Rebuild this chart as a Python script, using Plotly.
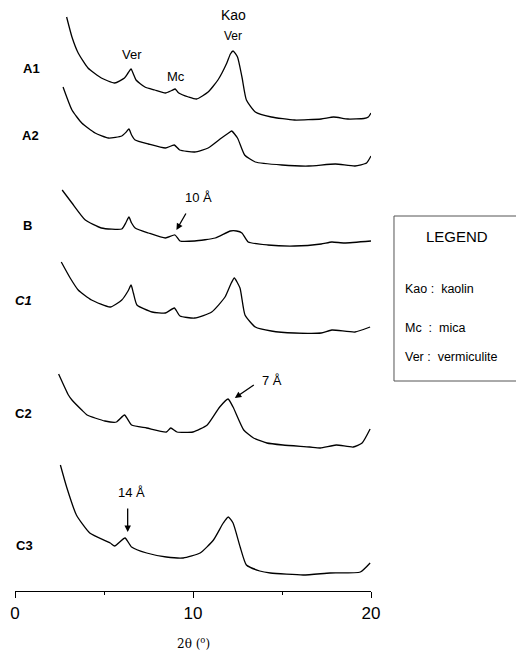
import plotly.graph_objects as go

# ---- data (2θ in degrees, intensity in arbitrary units above each trace baseline) ----
samples = ["A1", "A2", "B", "C1", "C2", "C3"]
sample_labels = ["<b>A1</b>", "<b>A2</b>", "<b>B</b>", "<b><i>C1</i></b>", "<b>C2</b>", "<b>C3</b>"]
offsets = [471, 425, 345, 258, 143, 16]

a1_x = [2.9, 3.2, 3.55, 4.1, 4.85, 5.6, 6.15, 6.35, 6.52, 6.65, 6.8, 7.3, 7.85, 8.45, 8.8, 9.0, 9.2,
        9.75, 10.2, 10.85, 11.4, 11.9, 12.1, 12.25, 12.5, 12.75, 13.0, 13.5, 14.4, 15.7, 17.2, 17.9,
        18.7, 19.6, 19.85, 20.0]
a1_y = [103, 83, 67, 52, 42, 37, 42, 47, 51, 46, 40, 33, 30, 27, 29.5, 31, 27,
        23, 21, 28, 40, 57, 66, 69, 63, 43, 20, 8, 3, 0, 1, 3,
        1, 1.5, 3, 7]

a2_x = [2.7, 3.2, 3.75, 4.5, 5.25, 6.0, 6.25, 6.4, 6.55, 6.75, 7.5, 8.45, 8.95, 9.25, 10.1, 10.85,
        11.6, 12.0, 12.17, 12.5, 12.9, 13.5, 15.0, 16.5, 18.0, 19.1, 19.75, 20.0]
a2_y = [79, 56, 43, 33, 28, 30, 34, 37, 31, 26, 22, 18, 21, 16, 14, 18,
        28, 33, 35, 28, 11, 4, 1, 0, 2, 0, 3, 10]

b_x = [2.65, 3.2, 3.95, 4.85, 6.0, 6.25, 6.4, 6.55, 6.75, 7.5, 8.45, 8.99, 9.27, 10.1, 11.25,
       12.1, 12.45, 12.75, 13.1, 14.2, 15.7, 17.2, 17.8, 18.5, 20.0]
b_y = [56, 43, 26, 18, 17, 24, 29, 23, 18, 13, 8, 11, 5, 5, 8,
       15, 15, 13, 4, 1, 0, 2, 4, 3, 5]

c1_x = [2.6, 3.1, 3.55, 4.3, 5.35, 6.0, 6.35, 6.52, 6.65, 6.85, 7.7, 8.45, 8.95, 9.27, 10.1, 11.05,
        11.8, 12.15, 12.32, 12.64, 12.92, 13.5, 14.4, 15.7, 17.2, 17.8, 19.1, 19.95]
c1_y = [71, 55, 43, 33, 26, 33, 42, 48, 40, 28, 21, 20, 25, 17, 15, 21,
        36, 50, 55, 45, 18, 6, 2, 0, 0, 3, 1, 6]

c2_x = [2.45, 3.0, 3.2, 3.75, 4.05, 5.05, 5.7, 6.15, 6.55, 7.4, 8.5, 8.75, 9.1, 10.0, 10.8, 11.5,
        11.97, 12.25, 12.85, 13.4, 14.15, 15.05, 16.55, 17.15, 18.05, 19.0, 19.5, 19.95]
c2_y = [74, 53, 48, 38, 33, 27, 26, 33, 23, 20, 16, 20, 16, 16, 23, 41,
        49, 41, 18, 10, 5, 3, 1, 0, 3, 1, 5, 19]

c3_x = [2.55, 2.9, 3.45, 4.2, 5.35, 5.6, 6.18, 6.55, 7.4, 8.5, 9.45, 10.4, 11.15, 11.7, 11.98,
        12.25, 12.65, 13.0, 13.75, 14.35, 16.2, 17.7, 19.4, 19.95]
c3_y = [110, 88, 60, 42, 32, 29, 37, 28, 22, 18, 17, 22, 35, 52, 58,
        52, 28, 10, 4, 2, 0, 2, 3, 12]

series_x = [a1_x, a2_x, b_x, c1_x, c2_x, c3_x]
series_y = [a1_y, a2_y, b_y, c1_y, c2_y, c3_y]

x_range = [0, 20]

legend_title = "LEGEND"
legend_items = ["Kao :\u00a0 kaolin", "Mc\u00a0 :\u00a0 mica", "Ver :\u00a0 vermiculite"]

FONT = "Liberation Sans, Arial, sans-serif"
TOPV = 583.0  # top of the (hidden) vertical scale

fig = go.Figure()
for name, xs, ys, off in zip(samples, series_x, series_y, offsets):
    fig.add_trace(go.Scatter(
        x=xs, y=[v + off for v in ys], mode="lines", name=name,
        line=dict(color="black", width=1.3, shape="spline", smoothing=0.5),
        showlegend=False, hoverinfo="skip"))

ann = []
# sample labels, placed relative to each trace's baseline level
label_x = [0.9, 0.85, 0.7, 0.5, 0.5, 0.55]
label_dy = [52, 31, 21, 33, 35, 30]
for lab, lx, off, dy in zip(sample_labels, label_x, offsets, label_dy):
    ann.append(dict(x=lx, y=off + dy, text=lab, showarrow=False, xanchor="center", yanchor="middle",
                    font=dict(size=13, family=FONT, color="black")))

# peak labels
pk = dict(showarrow=False, xanchor="center", yanchor="middle")
ann += [
    dict(x=12.25, y=576, text="Kao", font=dict(size=14, family=FONT, color="black"), **pk),
    dict(x=12.22, y=555, text="Ver", font=dict(size=12, family=FONT, color="black"), **pk),
    dict(x=6.55, y=537, text="Ver", font=dict(size=13, family=FONT, color="black"), **pk),
    dict(x=9.05, y=515, text="Mc", font=dict(size=13, family=FONT, color="black"), **pk),
    dict(x=10.3, y=394, text="10 Å", font=dict(size=13, family=FONT, color="black"), **pk),
    dict(x=14.45, y=211, text="7 Å", font=dict(size=13, family=FONT, color="black"), **pk),
    dict(x=6.55, y=99, text="14 Å", font=dict(size=13, family=FONT, color="black"), **pk),
]
# arrows (head at x,y ; tail at ax,ay)
arrow_common = dict(text="", showarrow=True, arrowhead=2, arrowsize=1, arrowwidth=1.3,
                    arrowcolor="black", axref="x", ayref="y")
ann += [
    dict(x=9.07, y=361, ax=9.65, ay=379, **arrow_common),
    dict(x=12.35, y=193, ax=13.5, ay=207, **arrow_common),
    dict(x=6.33, y=59, ax=6.33, ay=84, **arrow_common),
]
# axis title
ann.append(dict(xref="x", yref="paper", x=10, y=-52 / TOPV, text="2θ (<sup>o</sup>)", showarrow=False,
                xanchor="center", yanchor="middle",
                font=dict(size=12, family="DejaVu Serif, serif", color="black")))

# legend box contents (paper coords)
ann.append(dict(xref="paper", yref="paper", x=1.2416, y=354 / TOPV, text=legend_title, showarrow=False,
                xanchor="center", yanchor="middle", font=dict(size=15, family=FONT, color="black")))
for item, yy in zip(legend_items, [302, 263, 234]):
    ann.append(dict(xref="paper", yref="paper", x=1.0899, y=yy / TOPV, xanchor="left", yanchor="middle",
                    text=item, showarrow=False, font=dict(size=12.5, family=FONT, color="black")))

fig.update_layout(
    width=516, height=648,
    margin=dict(l=7, r=153, t=0, b=65),
    plot_bgcolor="white", paper_bgcolor="white",
    annotations=ann,
    shapes=[dict(type="rect", xref="paper", yref="paper", x0=1.0646, x1=1.4242,
                 y0=210 / TOPV, y1=375 / TOPV, line=dict(color="#555", width=1))],
    xaxis=dict(range=x_range, tickmode="linear", tick0=0, dtick=10, ticks="outside", ticklen=6,
               tickwidth=1.3, tickcolor="black", showline=True, linecolor="black", linewidth=1.3,
               showgrid=False, zeroline=False, tickfont=dict(size=17, family=FONT, color="black"),
               minor=dict(tickmode="linear", tick0=0, dtick=5, ticks="outside", ticklen=3,
                          tickcolor="black", tickwidth=1, showgrid=False),
               fixedrange=True),
    yaxis=dict(range=[0, TOPV], visible=False, fixedrange=True),
)

fig.write_html("out.html")
